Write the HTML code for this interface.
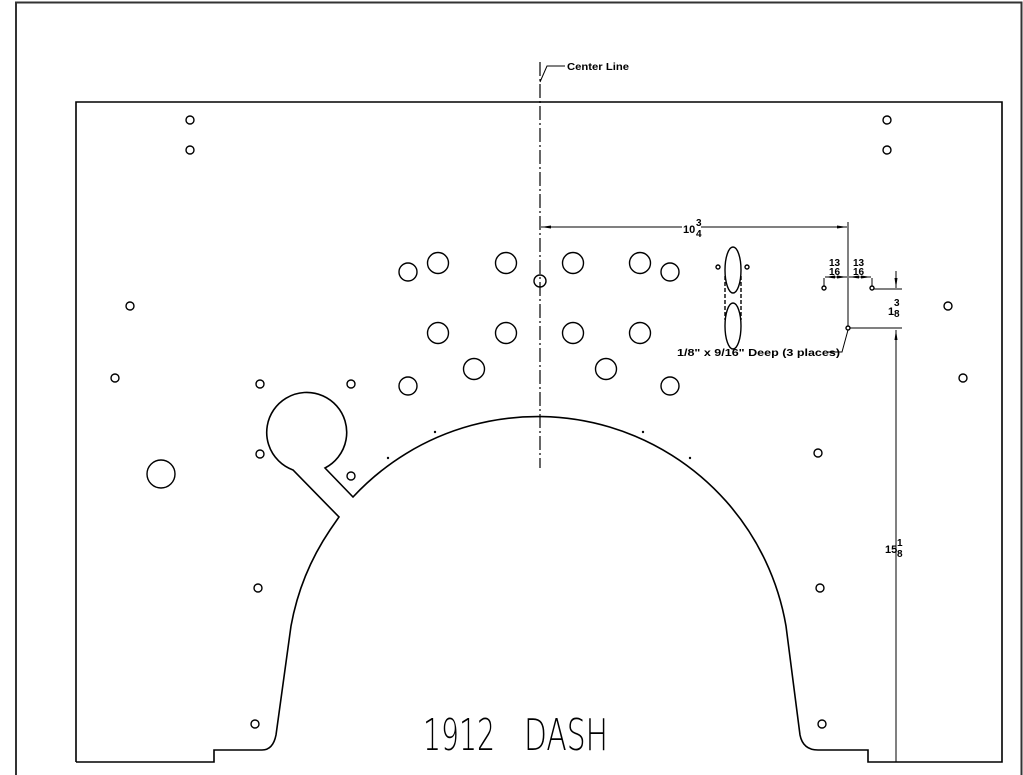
<!DOCTYPE html>
<html><head><meta charset="utf-8"><style>html,body{margin:0;padding:0;background:#fff}svg{display:block}</style></head>
<body>
<svg width="1023" height="775" viewBox="0 0 1023 775" xmlns="http://www.w3.org/2000/svg" font-family="Liberation Sans, sans-serif">
<defs>
<marker id="a" viewBox="0 0 10 6" refX="10" refY="3" markerWidth="10" markerHeight="6" orient="auto-start-reverse" markerUnits="userSpaceOnUse"><path d="M0 1.5L10 3L0 4.5z" fill="#000"/></marker>
</defs>
<g fill="none" stroke="#000">
<path d="M16 775V2.5H1021.5V775" stroke-width="2" stroke="#333"/>
<path d="M76 762V102H1002V762H868V750H818Q803 750 800 735L786 626A252 252 0 0 0 353 497L325 468A40 40 0 1 0 293 470L339 517L330 530A252 252 0 0 0 291 626L276 735Q273 750 262 750H214V762H76" stroke-width="1.6"/>
<path d="M540 62V468" stroke-width="1.2" stroke-dasharray="14 3 2 3"/>
<path d="M540 82L547 66H565" stroke-width="1"/>
<g stroke-width="1.4">
<circle cx="190" cy="120" r="4"/><circle cx="190" cy="150" r="4"/><circle cx="887" cy="120" r="4"/><circle cx="887" cy="150" r="4"/>
<circle cx="130" cy="306" r="4"/><circle cx="115" cy="378" r="4"/><circle cx="948" cy="306" r="4"/><circle cx="963" cy="378" r="4"/>
<circle cx="260" cy="384" r="4"/><circle cx="351" cy="384" r="4"/><circle cx="260" cy="454" r="4"/><circle cx="351" cy="476" r="4"/>
<circle cx="818" cy="453" r="4"/><circle cx="258" cy="588" r="4"/><circle cx="820" cy="588" r="4"/><circle cx="255" cy="724" r="4"/><circle cx="822" cy="724" r="4"/>
<circle cx="540" cy="281" r="6"/>
<circle cx="438" cy="263" r="10.5"/><circle cx="506" cy="263" r="10.5"/><circle cx="573" cy="263" r="10.5"/><circle cx="640" cy="263" r="10.5"/>
<circle cx="408" cy="272" r="9"/><circle cx="670" cy="272" r="9"/>
<circle cx="438" cy="333" r="10.5"/><circle cx="506" cy="333" r="10.5"/><circle cx="573" cy="333" r="10.5"/><circle cx="640" cy="333" r="10.5"/>
<circle cx="474" cy="369" r="10.5"/><circle cx="606" cy="369" r="10.5"/><circle cx="408" cy="386" r="9"/><circle cx="670" cy="386" r="9"/>
<circle cx="161" cy="474" r="14"/>
<ellipse cx="733" cy="270" rx="8" ry="23"/><ellipse cx="733" cy="326" rx="8" ry="23"/>
<path d="M725 276V320M741 276V320" stroke-dasharray="4 2"/>
<circle cx="718" cy="267" r="2"/><circle cx="747" cy="267" r="2"/>
<circle cx="848" cy="328" r="2"/><circle cx="824" cy="288" r="2"/><circle cx="872" cy="288" r="2"/>
</g>
<g stroke-width="1">
<path d="M541 227H682" marker-start="url(#a)"/><path d="M701 227H847" marker-end="url(#a)"/>
<path d="M848 222V326"/>
<path d="M824 278V286M872 278V286"/>
<path d="M825 277H847" marker-end="url(#a)" marker-start="url(#a)"/>
<path d="M849 277H871" marker-end="url(#a)" marker-start="url(#a)"/>
<path d="M874 289H902M850 328H902"/>
<path d="M896 271V288" marker-end="url(#a)"/>
<path d="M896 762V330" marker-end="url(#a)"/>
<path d="M848 330L842 352H828"/>
</g>
</g>
<g fill="none" stroke="#000" stroke-width="1.4"><circle cx="435" cy="432" r="0.5"/><circle cx="388" cy="458" r="0.5"/><circle cx="643" cy="432" r="0.5"/><circle cx="690" cy="458" r="0.5"/></g>
<g font-weight="bold" fill="#000">
<text x="567" y="70" font-size="10" textLength="62" lengthAdjust="spacingAndGlyphs">Center Line</text>
<text x="677" y="356" font-size="10" textLength="163" lengthAdjust="spacingAndGlyphs">1/8" x 9/16" Deep (3 places)</text>
<text x="683" y="233" font-size="11">10</text>
<text x="696" y="226" font-size="10">3</text><text x="696" y="237" font-size="10">4</text>
<text x="829" y="266" font-size="10">13</text><text x="829" y="275" font-size="10">16</text>
<text x="853" y="266" font-size="10">13</text><text x="853" y="275" font-size="10">16</text>
<text x="888" y="315" font-size="11">1</text><text x="894" y="306" font-size="10">3</text><text x="894" y="317" font-size="10">8</text>
<text x="885" y="553" font-size="11">15</text><text x="897" y="546" font-size="10">1</text><text x="897" y="557" font-size="10">8</text>
</g>
<g font-size="44" fill="#000" style="font-family:'DejaVu Sans','Liberation Sans',sans-serif;font-weight:200">
<text x="423" y="750" textLength="72" lengthAdjust="spacingAndGlyphs">1912</text>
<text x="524" y="750" textLength="84" lengthAdjust="spacingAndGlyphs">DASH</text>
</g>
</svg>
</body></html>
